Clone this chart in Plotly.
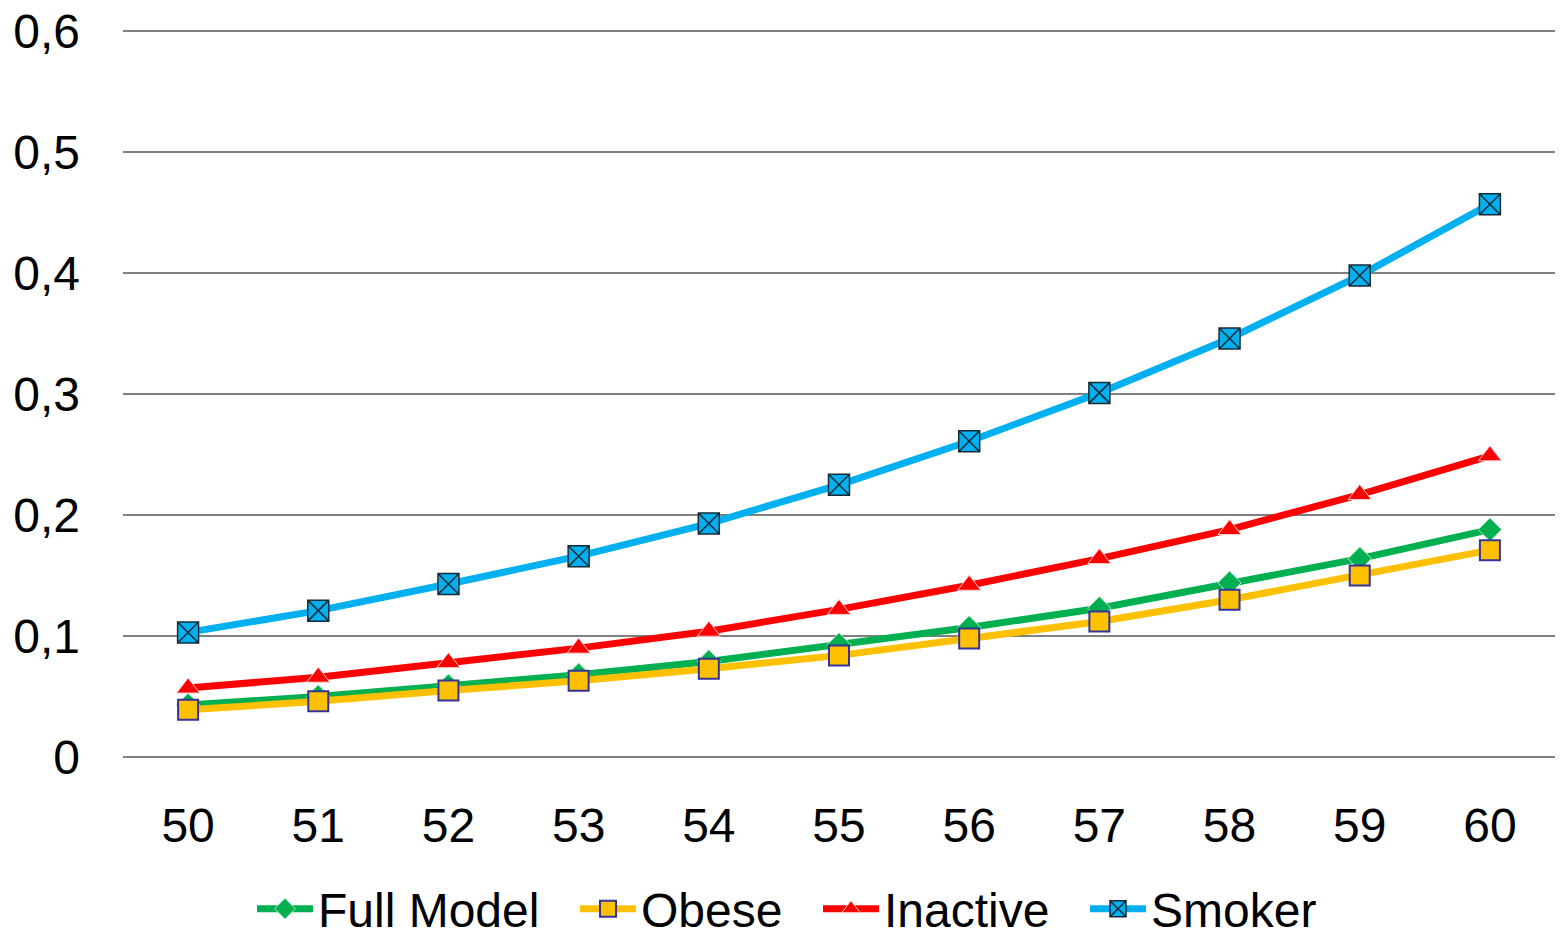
import plotly.graph_objects as go

ages = ["50", "51", "52", "53", "54", "55", "56", "57", "58", "59", "60"]

full_model = [0.043, 0.050, 0.059, 0.068, 0.079, 0.093, 0.107, 0.123, 0.144, 0.164, 0.188]
obese = [0.039, 0.046, 0.055, 0.063, 0.073, 0.084, 0.098, 0.112, 0.130, 0.150, 0.171]
inactive = [0.057, 0.066, 0.078, 0.090, 0.104, 0.122, 0.142, 0.164, 0.188, 0.217, 0.249]
smoker = [0.103, 0.121, 0.143, 0.166, 0.193, 0.225, 0.261, 0.301, 0.346, 0.398, 0.457]

y_ticks = [0, 0.1, 0.2, 0.3, 0.4, 0.5, 0.6]
y_tick_labels = ["0", "0,1", "0,2", "0,3", "0,4", "0,5", "0,6"]

FONT = "Liberation Sans, Arial, sans-serif"
W, H = 1560, 938

fig = go.Figure()

fig.add_trace(go.Scatter(
    x=ages, y=full_model, name="Full Model", mode="lines+markers", legend="legend",
    line=dict(color="#00B050", width=7),
    marker=dict(symbol="diamond", size=18, color="#00B050",
                line=dict(color="#B8E6C8", width=1)),
))
fig.add_trace(go.Scatter(
    x=ages, y=obese, name="Obese", mode="lines+markers", legend="legend2",
    line=dict(color="#FFC000", width=7),
    marker=dict(symbol="square", size=20, color="#FFC000",
                line=dict(color="#333399", width=2)),
))
fig.add_trace(go.Scatter(
    x=ages, y=inactive, name="Inactive", mode="lines+markers", legend="legend3",
    line=dict(color="#FF0000", width=7),
    marker=dict(symbol="triangle-up", size=20, color="#FF0000",
                line=dict(color="#FFD0D0", width=1)),
))
fig.add_trace(go.Scatter(
    x=ages, y=smoker, name="Smoker", mode="lines+markers", legend="legend4",
    line=dict(color="#00B0F0", width=7),
    marker=dict(symbol="square-x", size=21, color="#00B0F0",
                line=dict(color="#1A2A33", width=1.5)),
))


def legend_box(left_px):
    return dict(
        orientation="h", xref="container", yref="container",
        x=left_px / W, xanchor="left", y=29 / H, yanchor="middle",
        font=dict(family=FONT, size=48, color="black"),
        itemwidth=56, bgcolor="rgba(0,0,0,0)",
    )


fig.update_layout(
    width=W, height=H,
    margin=dict(l=123, r=5, t=30, b=181, autoexpand=False),
    paper_bgcolor="white", plot_bgcolor="white",
    font=dict(family=FONT, size=46, color="black"),
    showlegend=True,
    legend=legend_box(252),
    legend2=legend_box(575),
    legend3=legend_box(818),
    legend4=legend_box(1085),
)

fig.update_xaxes(
    type="category", range=[-0.5, 10.5],
    showgrid=False, showline=False, zeroline=False, ticks="",
    tickfont=dict(family=FONT, size=48, color="black"),
    ticklabelstandoff=36,
)
fig.update_yaxes(
    range=[0, 0.601], tickvals=y_ticks, ticktext=y_tick_labels,
    showgrid=True, gridcolor="#808080", gridwidth=2,
    zeroline=True, zerolinecolor="#808080", zerolinewidth=2,
    showline=False, ticks="",
    tickfont=dict(family=FONT, size=48, color="black"),
    ticklabelstandoff=42,
)

fig.write_html("out.html")
